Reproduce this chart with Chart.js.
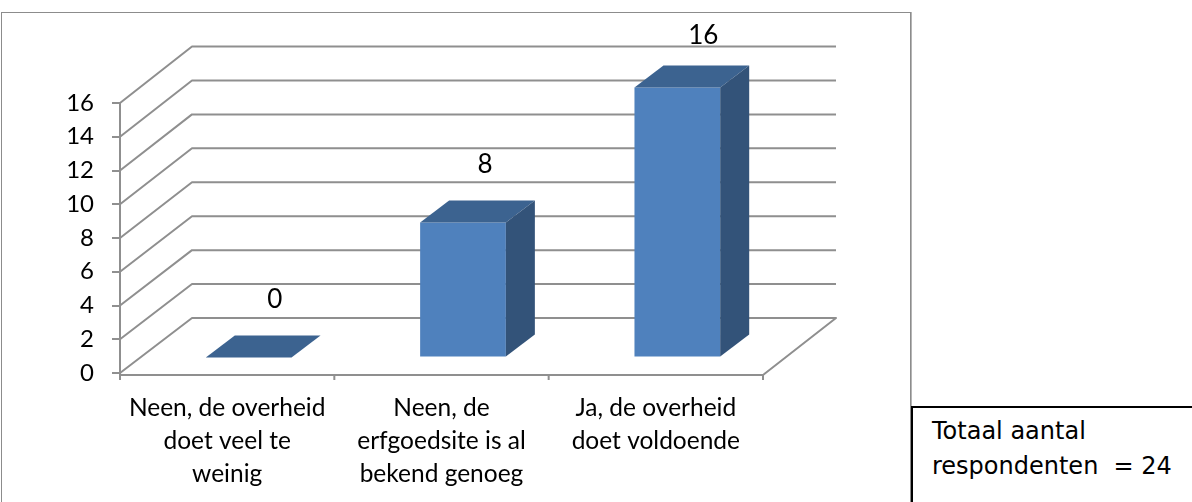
<!DOCTYPE html>
<html><head><meta charset="utf-8">
<style>
html,body{margin:0;padding:0;background:#fff;width:1192px;height:502px;overflow:hidden}
#wrap{position:absolute;left:0;top:0;width:1192px;height:502px}
#frame{position:absolute;left:1px;top:12px;width:910px;height:500px;border:1px solid #8c8c8c;box-shadow:1px 0 0 #b5b5b5;box-sizing:border-box;pointer-events:none}
#note{position:absolute;left:911px;top:406px;width:300px;height:110px;border:2px solid #000;box-sizing:border-box;background:#fff;font:24px/35px "DejaVu Sans",sans-serif;color:#000;padding:6px 0 0 19px;white-space:pre}
canvas{position:absolute;left:0;top:0}
</style>
<script src="https://cdn.jsdelivr.net/npm/chart.js@4"></script>
</head><body>
<div id="wrap">
<canvas id="c" width="1192" height="502"></canvas>
<div id="frame"></div>
<div id="note">Totaal aantal
respondenten  = 24</div>
</div>
<script>
const categories = [["Neen, de overheid","doet veel te","weinig"],["Neen, de","erfgoedsite is al","bekend genoeg"],["Ja, de overheid","doet voldoende"]];
const values = [0, 8, 16];
const yTicks = [0,2,4,6,8,10,12,14,16];
const FONT = 'Lato, sans-serif';
const GRID = '#8f8f8f';
const WALL = {dx:72, dyBottom:-55, dyTop:-56.5};
const BAR_SHIFT = {dx:21.5, dy:-15.5};
const DEPTH = {dx:29, dy:-22};
const LABEL_DX = [26, 22, 26];

const threeD = {
  id:'threeD',
  beforeDatasetsDraw(chart){
    const {ctx, chartArea:a, scales:{x,y}} = chart;
    ctx.save();
    ctx.strokeStyle = GRID; ctx.lineWidth = 2; ctx.lineJoin='round';
    yTicks.forEach(v=>{
      const p = y.getPixelForValue(v);
      const dy = WALL.dyBottom + (WALL.dyTop-WALL.dyBottom)*(a.bottom-p)/(a.bottom-a.top);
      ctx.beginPath();
      ctx.moveTo(a.left, p);
      ctx.lineTo(a.left+WALL.dx, p+dy);
      ctx.lineTo(a.right+WALL.dx+1, p+dy);
      if(v===0) ctx.lineTo(a.right, p+2);
      ctx.stroke();
    });
    const base = a.bottom+2;
    ctx.beginPath();
    ctx.moveTo(a.left, base); ctx.lineTo(a.right, base);
    ctx.moveTo(a.left, a.top); ctx.lineTo(a.left, base+5);
    const n = x.ticks.length;
    const step = (a.right-a.left)/n;
    for(let i=1;i<=n;i++){ ctx.moveTo(a.left+step*i, base); ctx.lineTo(a.left+step*i, base+5); }
    ctx.stroke();
    ctx.restore();
  },
  beforeDatasetDraw(chart){
    chart.ctx.save();
    chart.ctx.translate(BAR_SHIFT.dx, BAR_SHIFT.dy);
  },
  afterDatasetDraw(chart){
    const ctx = chart.ctx;
    const meta = chart.getDatasetMeta(0);
    meta.data.forEach((b)=>{
      const l=b.x-b.width/2, r=b.x+b.width/2, t=b.y, bt=b.base;
      ctx.fillStyle='#3c6390';
      ctx.beginPath();
      ctx.moveTo(l,t); ctx.lineTo(l+DEPTH.dx,t+DEPTH.dy); ctx.lineTo(r+DEPTH.dx,t+DEPTH.dy); ctx.lineTo(r,t); ctx.closePath(); ctx.fill();
      if(bt-t>0.5){
        ctx.fillStyle='#335379';
        ctx.beginPath();
        ctx.moveTo(r,t); ctx.lineTo(r+DEPTH.dx,t+DEPTH.dy); ctx.lineTo(r+DEPTH.dx,bt+DEPTH.dy); ctx.lineTo(r,bt); ctx.closePath(); ctx.fill();
      }
    });
    ctx.restore();
  },
  afterDatasetsDraw(chart){
    const ctx = chart.ctx;
    const meta = chart.getDatasetMeta(0);
    ctx.save();
    ctx.fillStyle='#000'; ctx.font='26px '+FONT; ctx.textAlign='center'; ctx.textBaseline='middle';
    meta.data.forEach((b,i)=>{
      const cx=b.x+BAR_SHIFT.dx+LABEL_DX[i], cy=Math.max(36,b.y+BAR_SHIFT.dy-57.5);
      ctx.fillText(String(values[i]),cx,cy);
    });
    ctx.restore();
  }
};

new Chart(document.getElementById('c'),{
  type:'bar',
  data:{labels:categories,datasets:[{data:values,backgroundColor:'#4f81bd',clip:false,barPercentage:0.8,categoryPercentage:0.5}]},
  plugins:[threeD],
  options:{
    responsive:false,animation:false,
    layout:{padding:{top:103,right:429,left:0,bottom:0}},
    plugins:{legend:{display:false},tooltip:{enabled:false},title:{display:false}},
    scales:{
      x:{
        afterFit(s){s.height=129;},
        grid:{display:false},border:{display:false},
        ticks:{color:'#000',font:{family:FONT,size:24.5,lineHeight:1.347},maxRotation:0,minRotation:0,autoSkip:false,padding:11}
      },
      y:{
        min:0,max:16,
        afterFit(s){s.width=120;},
        afterBuildTicks(s){s.ticks=yTicks.map(v=>({value:v}));},
        grid:{drawOnChartArea:false,tickLength:8,color:GRID,lineWidth:2},border:{display:false},
        ticks:{color:'#000',font:{family:FONT,size:24},padding:18}
      }
    }
  }
});
</script>
</body></html>
